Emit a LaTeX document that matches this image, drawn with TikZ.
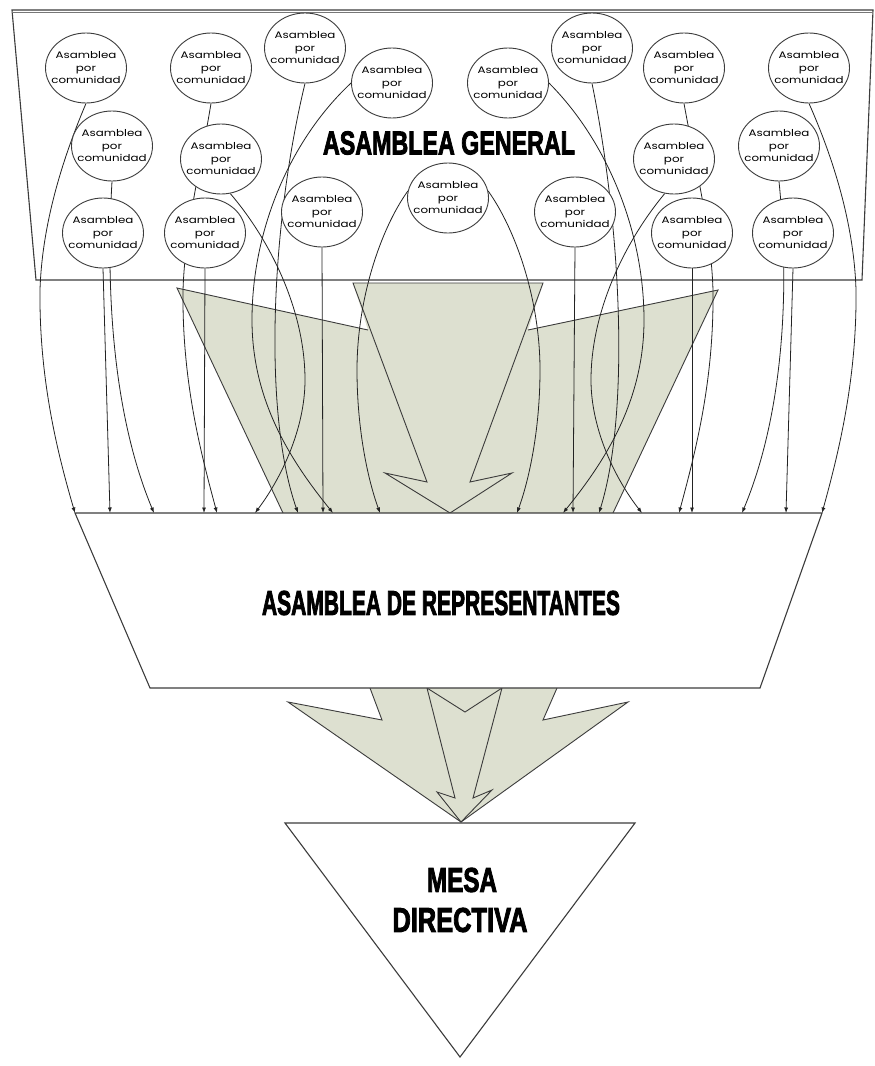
\documentclass[tikz,border=0pt]{standalone}
\usepackage{fontspec}
\usepackage{graphicx}
\usetikzlibrary{shapes.geometric,arrows.meta}
\newfontfamily\commfont{Poppins}[FakeStretch=1.25]
\newfontfamily\titlefont{Liberation Sans}[FakeBold=3]
\definecolor{arrowfill}{RGB}{221,224,208}
\definecolor{edgecol}{RGB}{60,60,60}
\definecolor{linkcol}{RGB}{35,35,35}
\pgfdeclarelayer{shapes}
\pgfdeclarelayer{links}
\pgfsetlayers{shapes,links,main}
\begin{document}
\begin{tikzpicture}[x=1pt,y=-1pt,
  comm/.style={ellipse, draw=edgecol, line width=0.9pt, fill=white, minimum width=81pt, minimum height=70pt, inner sep=0pt},
  commtext/.style={align=center, inner sep=0pt, font=\commfont\fontsize{9.5}{12.5}\selectfont},
  bigtitle/.style={inner sep=0pt, font=\titlefont\bfseries},
  conn/.style={draw=linkcol, line width=0.8pt, -{Latex[length=5.5pt,width=4pt]}},
  framebox/.style={draw=edgecol, line width=1.1pt, line join=miter},
  arrowedge/.style={draw=edgecol, line width=0.9pt, line join=miter},
]
\useasboundingbox (0,0) rectangle (875,1066);

% community assemblies
\foreach \n/\x/\y in {e1/86/68, e2/112/146, e3/103/233, e4/211/68, e5/221/159, e6/205/233,
  e7/305/48, e8/392/83, e9/508/83, e10/592/48, e11/684/68, e12/809/68, e13/674/159,
  e14/779/146, e15/692/233, e16/793/233, e17/322/212, e18/448/198, e19/575/212}{
  \node[comm] (\n) at (\x,\y) {};
  \node[commtext] (t\n) at (\n) {Asamblea\\por\\comunidad};
}

% titles
\node[bigtitle] (tgen) at (449,143) {\resizebox{252pt}{23pt}{ASAMBLEA GENERAL}};
\node[bigtitle] (trep) at (441,603) {\resizebox{358pt}{24pt}{ASAMBLEA DE REPRESENTANTES}};
\node[bigtitle] (tmesa) at (462,880) {\resizebox{70pt}{24pt}{MESA}};
\node[bigtitle] (tdir) at (460,920) {\resizebox{135pt}{24pt}{DIRECTIVA}};

% arrow targets on the top edge of the representatives' box
\foreach \a in {75,110,154,204,217,255,298,323,333,380,517,563,573,599,642,679,692,742,786,822}{
  \coordinate (a\a) at (\a,513);
}

\begin{pgfonlayer}{shapes}
  \fill[white] (0,0) rectangle (875,1066);
  \draw[framebox] (12,10) -- (873,10) -- (862,280) -- (36,280) -- cycle;
  \draw[edgecol!70, line width=1pt] (12,12) -- (873,12);
  % upper block arrows
  \fill[arrowfill] (177,288) -- (368,330) -- (353,283) -- (543,283) -- (528,330) -- (718,290) -- (613,513) -- (283,513) -- cycle;
  \draw[arrowedge] (368,330) -- (177,288) -- (283,513);
  \draw[arrowedge] (528,330) -- (718,290) -- (613,513);
  \draw[arrowedge] (353,283) -- (543,283) -- (470,482) -- (512,473) -- (450,513) -- (385,473) -- (427,482) -- cycle;
  % lower block arrows
  \fill[arrowfill] (288,702) -- (382,720) -- (370,688) -- (557,688) -- (543,720) -- (628,702) -- (461,822) -- cycle;
  \draw[arrowedge] (370,688) -- (382,720) -- (288,702) -- (461,822) -- (628,702) -- (543,720) -- (557,688);
  \draw[arrowedge] (427,688) -- (465,712) -- (502,688) -- (473,798) -- (492,790) -- (461,822) -- (437,792) -- (455,798) -- cycle;
  % representatives and board
  \draw[framebox, fill=white] (75,513) -- (822,513) -- (760,688) -- (150,688) -- cycle;
  \draw[framebox, fill=white] (285,823) -- (635,823) -- (460,1057) -- cycle;
\end{pgfonlayer}

\begin{pgfonlayer}{links}
  \draw[conn] (e1.south) .. controls (62,160) and (42,225) .. (40,290) .. controls (39,380) and (58,455) .. (a75);
  \draw[conn] (e2.south) .. controls (105,300) and (115,420) .. (a154);
  \draw[conn] (e3.south) -- (a110);
  \draw[conn] (e4.south) .. controls (200,170) and (185,230) .. (183,290) .. controls (182,380) and (200,450) .. (a217);
  \draw[conn] (e5.-75) .. controls (270,240) and (305,310) .. (305,380) .. controls (305,430) and (280,480) .. (a255);
  \draw[conn] (e6.south) -- (a204);
  \draw[conn] (e7.south) .. controls (272,220) and (262,410) .. (a298);
  \draw[conn] (e8.west) .. controls (290,140) and (252,230) .. (252,320) .. controls (252,400) and (290,460) .. (a333);
  \draw[conn] (e17.south) -- (a323);
  \draw[conn] (e18.170) .. controls (380,230) and (357,300) .. (357,370) .. controls (357,430) and (368,480) .. (a380);
  \draw[conn] (e18.10) .. controls (516,230) and (540,300) .. (540,370) .. controls (540,430) and (529,480) .. (a517);
  \draw[conn] (e9.east) .. controls (606,140) and (644,230) .. (644,320) .. controls (644,400) and (606,460) .. (a563);
  \draw[conn] (e19.south) -- (a573);
  \draw[conn] (e10.south) .. controls (620,220) and (631,410) .. (a599);
  \draw[conn] (e13.-105) .. controls (626,240) and (591,310) .. (591,380) .. controls (591,430) and (616,480) .. (a642);
  \draw[conn] (e11.south) .. controls (696,170) and (711,230) .. (713,290) .. controls (714,380) and (696,450) .. (a679);
  \draw[conn] (e15.south) -- (a692);
  \draw[conn] (e14.south) .. controls (791,300) and (781,420) .. (a742);
  \draw[conn] (e16.south) -- (a786);
  \draw[conn] (e12.south) .. controls (834,160) and (854,225) .. (856,290) .. controls (857,380) and (838,455) .. (a822);
\end{pgfonlayer}
\end{tikzpicture}
\end{document}
